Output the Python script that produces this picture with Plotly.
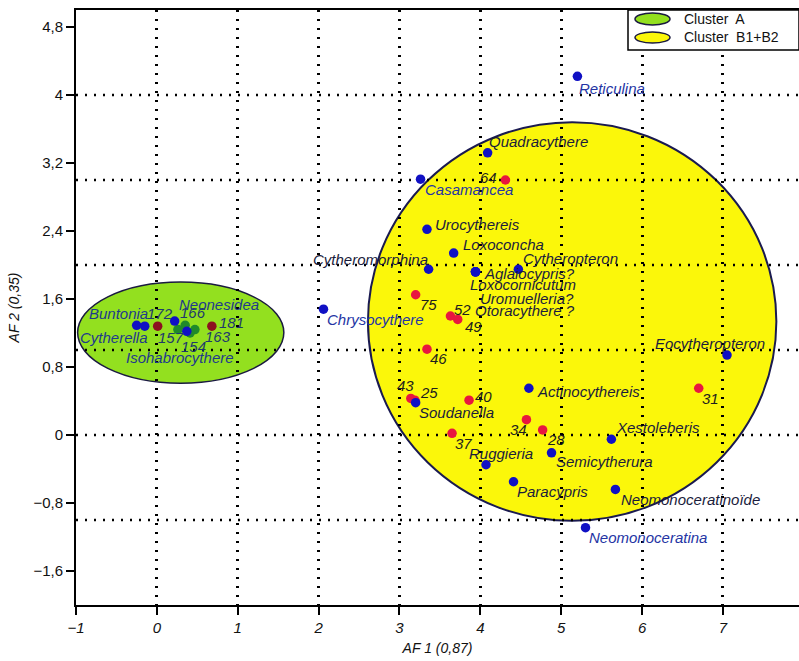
import numpy as np
import plotly.graph_objects as go

# ---- genera (blue points) ----
genus_names = ["Buntonia", "Cytherella", "Neonesidea", "Isohabrocythere",
               "Reticulina", "Quadracythere", "Casamancea", "Urocythereis",
               "Loxoconcha", "Cytheromorphina", "Aglaiocypris?", "Loxocornicutum",
               "Uromuelleria?", "Otoracythere ?", "Cytheropteron", "Chrysocythere",
               "Soudanella", "Actinocythereis", "Eocytheropteron", "Xestoleberis",
               "Ruggieria", "Semicytherura", "Paracypris", "Neomonoceratinoïde",
               "Neomonoceratina"]
genus_af1 = [-0.25, -0.15, 0.22, 0.37,
             5.20, 4.09, 3.26, 3.34,
             3.67, 3.36, 3.94, 3.94,
             3.94, 3.94, 4.47, 2.06,
             3.20, 4.60, 7.05, 5.62,
             4.07, 4.88, 4.41, 5.67,
             5.30]
genus_af2 = [1.29, 1.28, 1.34, 1.22,
             4.22, 3.32, 3.01, 2.42,
             2.14, 1.95, 1.92, 1.92,
             1.92, 1.92, 1.95, 1.48,
             0.38, 0.55, 0.94, -0.05,
             -0.35, -0.21, -0.55, -0.64,
             -1.09]

# ---- samples of cluster B1+B2 (red points) ----
sample_b_names = ["64", "75", "52", "49", "46", "43", "25", "40", "31", "34", "28", "37"]
sample_b_af1 = [4.31, 3.20, 3.63, 3.72, 3.34, 3.14, 3.19, 3.86, 6.70, 4.57, 4.77, 3.65]
sample_b_af2 = [3.00, 1.65, 1.40, 1.36, 1.01, 0.43, 0.41, 0.41, 0.55, 0.18, 0.06, 0.02]

# ---- samples of cluster A ----
sample_a_red_names = ["172", "181"]
sample_a_red_af1 = [0.01, 0.68]
sample_a_red_af2 = [1.28, 1.28]
sample_a_green_names = ["166", "157", "163", "154"]
sample_a_green_af1 = [0.35, 0.26, 0.47, 0.41]
sample_a_green_af2 = [1.29, 1.24, 1.24, 1.20]

# label placement: (anchor, dx px, dy px downward)
genus_label_pos = [("right", 13, -12), ("right", 5, 11), ("left", 2, -17), ("center", -7, 26),
                   ("left", 0, 12), ("left", -1, -11), ("left", 2, 10), ("left", 6, -5),
                   ("left", 7, -9), ("right", 1, -10), ("left", 6, 2), ("left", -8, 13),
                   ("left", 2, 27), ("left", -3, 39), ("left", 3, -11), ("left", 2, 10),
                   ("left", 1, 10), ("left", 6, 3), ("right", 40, -12), ("left", 3, -12),
                   ("left", -19, -11), ("left", 2, 9), ("left", 1, 10), ("left", 4, 10),
                   ("left", 1, 10)]
sample_b_label_pos = [("right", -6, -3), ("left", 2, 10), ("left", 2, -7), ("left", 5, 7),
                      ("left", 1, 9), ("center", -5, -13), ("left", 3, -8), ("left", 4, -4),
                      ("left", 1, 10), ("center", -8, 10), ("left", 2, 10), ("left", 1, 10)]
sample_a_red_label_pos = [("center", 2, -13), ("left", 5, -4)]
sample_a_green_label_pos = [("center", 8, -13), ("center", -7, 8), ("left", 8, 7), ("center", 3, 13)]

# cluster envelopes: (x0, x1, y0, y1) in factor units
cluster_a_box = (-0.98, 1.57, 0.61, 1.80)
cluster_b_box = (2.61, 7.66, -1.01, 3.68)

y_ticks = [-1.6, -0.8, 0, 0.8, 1.6, 2.4, 3.2, 4, 4.8]
grid_y = [-1, 0, 1, 2, 3, 4]
x_range = [-1, 7.94]
y_range = [-2, 5]

FONT = "Liberation Sans, Arial, sans-serif"
DOTS = "2px,7px"
GRID_W = 2.5

fig = go.Figure()

fig.add_trace(go.Scatter(x=sample_b_af1, y=sample_b_af2, mode="markers",
                         marker=dict(size=9.5, color="#e8173f"), hoverinfo="skip"))
fig.add_trace(go.Scatter(x=sample_a_green_af1, y=sample_a_green_af2, mode="markers",
                         marker=dict(size=9.5, color="#1f8a2a"), hoverinfo="skip"))
fig.add_trace(go.Scatter(x=sample_a_red_af1, y=sample_a_red_af2, mode="markers",
                         marker=dict(size=9.5, color="#8c1020"), hoverinfo="skip"))
fig.add_trace(go.Scatter(x=genus_af1, y=genus_af2, mode="markers",
                         marker=dict(size=9.5, color="#1010c4"), hoverinfo="skip"))

shapes = []
# filled cluster envelopes (under the dotted grid)
shapes.append(dict(type="circle", xref="x", yref="y", layer="below",
                   x0=cluster_a_box[0], x1=cluster_a_box[1],
                   y0=cluster_a_box[2], y1=cluster_a_box[3],
                   fillcolor="#93e01f", line=dict(color="#1a1a40", width=1.5)))
shapes.append(dict(type="circle", xref="x", yref="y", layer="below",
                   x0=cluster_b_box[0], x1=cluster_b_box[1],
                   y0=cluster_b_box[2], y1=cluster_b_box[3],
                   fillcolor="#fbf70a", line=dict(color="#1a1a50", width=2)))
# horizontal dotted grid at whole units
for gy in grid_y:
    shapes.append(dict(type="line", xref="x", yref="y", layer="below",
                       x0=x_range[0], x1=x_range[1], y0=gy, y1=gy,
                       line=dict(color="black", width=GRID_W, dash=DOTS)))

# legend box
lx0 = (628 - 76) / 723
shapes.append(dict(type="rect", xref="paper", yref="paper", layer="above",
                   x0=lx0, x1=1.0, y0=(605 - 50) / 595, y1=1.0,
                   fillcolor="white", line=dict(color="black", width=1.5)))
ix0, ix1 = (635 - 76) / 723, (670 - 76) / 723
shapes.append(dict(type="circle", xref="paper", yref="paper", layer="above",
                   x0=ix0, x1=ix1, y0=(605 - 25) / 595, y1=(605 - 13) / 595,
                   fillcolor="#93e01f", line=dict(color="#1a1a40", width=1.5)))
shapes.append(dict(type="circle", xref="paper", yref="paper", layer="above",
                   x0=ix0, x1=ix1, y0=(605 - 43) / 595, y1=(605 - 32) / 595,
                   fillcolor="#fbf70a", line=dict(color="#1a1a40", width=1.5)))

annotations = []


def inside_b(x, y):
    cx = (cluster_b_box[0] + cluster_b_box[1]) / 2
    cy = (cluster_b_box[2] + cluster_b_box[3]) / 2
    rx = (cluster_b_box[1] - cluster_b_box[0]) / 2
    ry = (cluster_b_box[3] - cluster_b_box[2]) / 2
    return ((x - cx) / rx) ** 2 + ((y - cy) / ry) ** 2 < 1


def add_labels(names, xs, ys, pos, color_fn, size=15):
    for n, x, y, (anc, dx, dy) in zip(names, xs, ys, pos):
        annotations.append(dict(x=x, y=y, xref="x", yref="y", text=f"<i>{n}</i>",
                                showarrow=False, xanchor=anc, yanchor="middle",
                                xshift=dx, yshift=-dy,
                                font=dict(family=FONT, size=size, color=color_fn(x, y))))


add_labels(genus_names, genus_af1, genus_af2, genus_label_pos,
           lambda x, y: "#1a1c3c" if inside_b(x, y) else ("#1f3a8c" if x < 1.5 else "#2434a4"))
add_labels(sample_b_names, sample_b_af1, sample_b_af2, sample_b_label_pos, lambda x, y: "#1e1e1e")
add_labels(sample_a_red_names, sample_a_red_af1, sample_a_red_af2, sample_a_red_label_pos,
           lambda x, y: "#1f3a6c")
add_labels(sample_a_green_names, sample_a_green_af1, sample_a_green_af2, sample_a_green_label_pos,
           lambda x, y: "#1f3a6c")

# legend text
lt_x = (682 - 76) / 723
for txt, py in [("Cluster  A", 19), ("Cluster  B1+B2", 37)]:
    annotations.append(dict(x=lt_x, y=(605 - py) / 595, xref="paper", yref="paper",
                            text=txt, showarrow=False, xanchor="left", yanchor="middle",
                            font=dict(family=FONT, size=14, color="#111")))

fig.update_layout(
    width=799, height=661,
    margin=dict(l=76, r=0, t=10, b=56),
    paper_bgcolor="white", plot_bgcolor="white",
    separators=", ",
    showlegend=False,
    shapes=shapes,
    annotations=annotations,
    font=dict(family=FONT, size=14, color="#111"),
)
fig.update_xaxes(
    range=x_range, tick0=0, dtick=1, tickmode="linear",
    showgrid=True, gridcolor="black", gridwidth=GRID_W, griddash=DOTS,
    zeroline=False, showline=True, linecolor="black", linewidth=2, mirror=True,
    ticks="outside", ticklen=8, tickwidth=2, tickcolor="black",
    tickfont=dict(family=FONT, size=15, color="#111"),
    tickprefix="<i>", ticksuffix="</i>",
    title=dict(text="<i>AF 1 (0,87)</i>", font=dict(family=FONT, size=14, color="#111"), standoff=8),
)
fig.update_yaxes(
    range=y_range, tickmode="array", tickvals=y_ticks,
    showgrid=False, zeroline=False, showline=True, linecolor="black", linewidth=2,
    ticks="outside", ticklen=8, tickwidth=2, tickcolor="black",
    tickfont=dict(family=FONT, size=15, color="#111"),
    tickprefix="<i>", ticksuffix="</i>",
    title=dict(text="<i>AF 2 (0,35)</i>", font=dict(family=FONT, size=14, color="#111"), standoff=10),
)

fig.write_html("out.html")
